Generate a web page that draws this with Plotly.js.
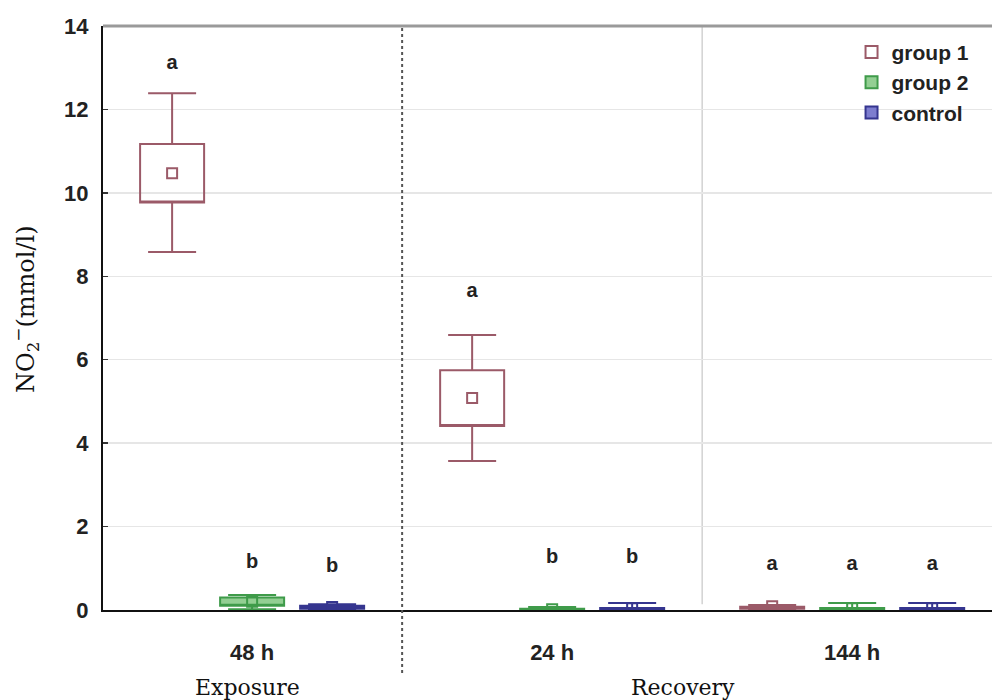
<!DOCTYPE html>
<html>
<head>
<meta charset="utf-8">
<script src="https://cdn.plot.ly/plotly-3.0.1.min.js"></script>
<style>html,body{margin:0;padding:0;background:#fff;}#chart{width:992px;height:700px;}</style>
</head>
<body>
<div id="chart"></div>
<script>
// ---- data ----
const categories = ["48 h", "24 h", "144 h"];
const groupNames = ["group 1", "group 2", "control"];

// mean, mean±SE (box), mean±SD (whiskers)
const g1Mean   = [10.47, 5.08, 0.09];
const g1SeLow  = [9.77, 4.41, 0.03];
const g1SeHigh = [11.17, 5.75, 0.08];
const g1SdLow  = [8.58, 3.57, 0.00];
const g1SdHigh = [12.39, 6.59, 0.12];

const g2Mean   = [0.20, 0.02, 0.04];
const g2SeLow  = [0.10, 0.01, 0.02];
const g2SeHigh = [0.30, 0.03, 0.05];
const g2SdLow  = [0.02, 0.00, 0.00];
const g2SdHigh = [0.36, 0.07, 0.17];

const ctMean   = [0.07, 0.04, 0.04];
const ctSeLow  = [0.03, 0.02, 0.02];
const ctSeHigh = [0.10, 0.05, 0.05];
const ctSdLow  = [0.00, 0.00, 0.00];
const ctSdHigh = [0.14, 0.17, 0.17];

// significance letters and their heights
const g1Letters = ["a", "a", "a"];
const g1LetterY = [13.1, 7.62, 1.08];
const g2Letters = ["b", "b", "a"];
const g2LetterY = [1.13, 1.25, 1.08];
const ctLetters = ["b", "b", "a"];
const ctLetterY = [1.03, 1.25, 1.08];

const yTickVals = [0, 2, 4, 6, 8, 10, 12, 14];
const phaseLabels = ["Exposure", "Recovery"];

// ---- styles ----
const lineColors = ["#9b5a68", "#3f9b4a", "#35358f"];
const fillColors = ["rgba(255,255,255,0)", "#93cf93", "#7d7dcf"];
const sans = "Liberation Sans, Arial, sans-serif";
const serif = "DejaVu Serif, serif";

const series = [
  {mean: g1Mean, lo: g1SeLow, hi: g1SeHigh, sdLo: g1SdLow, sdHi: g1SdHigh, letters: g1Letters, ly: g1LetterY},
  {mean: g2Mean, lo: g2SeLow, hi: g2SeHigh, sdLo: g2SdLow, sdHi: g2SdHigh, letters: g2Letters, ly: g2LetterY},
  {mean: ctMean, lo: ctSeLow, hi: ctSeHigh, sdLo: ctSdLow, sdHi: ctSdHigh, letters: ctLetters, ly: ctLetterY}
];

const traces = [];
series.forEach((s, i) => {
  traces.push({
    type: "box",
    name: groupNames[i],
    x: categories,
    q1: s.lo, median: s.lo, q3: s.hi,
    lowerfence: s.sdLo, upperfence: s.sdHi,
    boxpoints: false,
    whiskerwidth: 0.75,
    offsetgroup: "g" + i,
    alignmentgroup: "boxes",
    line: {color: lineColors[i], width: 2},
    fillcolor: fillColors[i],
    hoverinfo: "skip"
  });
});
series.forEach((s, i) => {
  traces.push({
    type: "scatter", mode: "markers",
    x: categories, y: s.mean,
    offsetgroup: "g" + i, alignmentgroup: "marks",
    marker: {symbol: "square-open", size: 10, color: lineColors[i], line: {width: 2, color: lineColors[i]}},
    showlegend: false, hoverinfo: "skip"
  });
  traces.push({
    type: "scatter", mode: "text",
    x: categories, y: s.ly, text: s.letters,
    offsetgroup: "g" + i, alignmentgroup: "marks",
    textposition: "middle center",
    textfont: {family: sans, size: 20, weight: "bold", color: "#222"},
    showlegend: false, hoverinfo: "skip"
  });
});

const layout = {
  width: 992, height: 700,
  margin: {l: 103, r: 0, t: 26, b: 90},
  paper_bgcolor: "#fff", plot_bgcolor: "#fff",
  boxmode: "group", boxgap: 0.2, boxgroupgap: 0.2,
  scattermode: "group", scattergap: 0.2,
  showlegend: true,
  legend: {
    x: 0.842, y: 0.99, xanchor: "left", yanchor: "top",
    bgcolor: "rgba(0,0,0,0)",
    font: {family: sans, size: 21, weight: "bold", color: "#222"},
    tracegroupgap: 0
  },
  xaxis: {
    type: "category", range: [-0.497, 2.466],
    showline: true, linecolor: "#111", linewidth: 2,
    showgrid: false, zeroline: false, ticks: "",
    tickfont: {family: sans, size: 22, weight: "bold", color: "#222"},
    ticklabelstandoff: 22
  },
  yaxis: {
    range: [0, 14], tickvals: yTickVals,
    showline: true, linecolor: "#111", linewidth: 2,
    ticks: "inside", ticklen: 5, tickwidth: 1.5, tickcolor: "#333",
    showgrid: true, gridcolor: "#e6e6e6", gridwidth: 1.5, zeroline: false,
    tickfont: {family: sans, size: 22, weight: "bold", color: "#222"},
    ticklabelstandoff: 8
  },
  shapes: [
    {type: "line", xref: "x", yref: "paper", x0: 0.5, x1: 0.5, y0: -0.108, y1: 1,
     line: {color: "#555", width: 2, dash: "dot"}, layer: "above"},
    {type: "line", xref: "x", yref: "paper", x0: 1.5, x1: 1.5, y0: 0.01, y1: 1,
     line: {color: "#d2d2d2", width: 1.5}, layer: "below"},
    {type: "line", xref: "paper", yref: "paper", x0: 0, x1: 1, y0: 1, y1: 1,
     line: {color: "#9a9a9a", width: 3}, layer: "above"}
  ],
  annotations: [
    {xref: "paper", yref: "paper", x: -0.088, y: 0.515, textangle: -90, showarrow: false,
     text: "NO<sub>2</sub><sup>−</sup>(mmol/l)", font: {family: serif, size: 24, color: "#111"},
     xanchor: "center", yanchor: "middle"},
    {xref: "paper", yref: "paper", x: 0.162, y: -0.132, showarrow: false,
     text: phaseLabels[0], font: {family: serif, size: 22, color: "#111"},
     xanchor: "center", yanchor: "middle"},
    {xref: "paper", yref: "paper", x: 0.652, y: -0.132, showarrow: false,
     text: phaseLabels[1], font: {family: serif, size: 22, color: "#111"},
     xanchor: "center", yanchor: "middle"}
  ]
};

Plotly.newPlot("chart", traces, layout, {displayModeBar: false, staticPlot: true});
</script>
</body>
</html>
